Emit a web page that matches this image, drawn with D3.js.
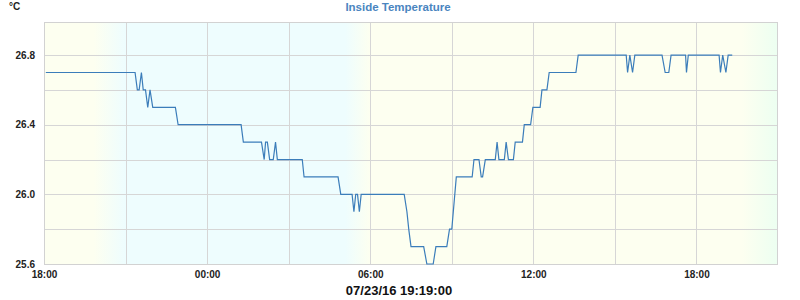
<!DOCTYPE html>
<html>
<head>
<meta charset="utf-8">
<script src="https://cdn.jsdelivr.net/npm/d3@7"></script>
<style>
  html, body { margin: 0; padding: 0; background: #fff; }
  svg { display: block; }
  text { font-family: "Liberation Sans", Arial, sans-serif; }
</style>
</head>
<body>
<svg id="chart" width="800" height="300"></svg>
<script>
// ---- data ----
const times = [
  "2016-07-22 18:04","2016-07-22 21:21","2016-07-22 21:26","2016-07-22 21:30","2016-07-22 21:35",
  "2016-07-22 21:39","2016-07-22 21:44","2016-07-22 21:49","2016-07-22 21:54","2016-07-22 22:00",
  "2016-07-22 22:50","2016-07-22 22:56","2016-07-23 01:15","2016-07-23 01:20","2016-07-23 02:00",
  "2016-07-23 02:06","2016-07-23 02:09","2016-07-23 02:13","2016-07-23 02:18","2016-07-23 02:26",
  "2016-07-23 02:31","2016-07-23 02:35","2016-07-23 03:30","2016-07-23 03:34","2016-07-23 04:49",
  "2016-07-23 04:55","2016-07-23 05:20","2016-07-23 05:24","2016-07-23 05:28","2016-07-23 05:32",
  "2016-07-23 05:36","2016-07-23 05:40","2016-07-23 07:15","2016-07-23 07:21","2016-07-23 07:25",
  "2016-07-23 07:30","2016-07-23 07:58","2016-07-23 08:05","2016-07-23 08:19","2016-07-23 08:25",
  "2016-07-23 08:49","2016-07-23 08:55","2016-07-23 09:00","2016-07-23 09:10","2016-07-23 09:45",
  "2016-07-23 09:49","2016-07-23 10:00","2016-07-23 10:05","2016-07-23 10:08","2016-07-23 10:14",
  "2016-07-23 10:36","2016-07-23 10:40","2016-07-23 10:44","2016-07-23 10:56","2016-07-23 11:00",
  "2016-07-23 11:05","2016-07-23 11:16","2016-07-23 11:20","2016-07-23 11:36","2016-07-23 11:40",
  "2016-07-23 11:54","2016-07-23 11:59","2016-07-23 12:15","2016-07-23 12:19","2016-07-23 12:30",
  "2016-07-23 12:35","2016-07-23 13:34","2016-07-23 13:39","2016-07-23 15:25","2016-07-23 15:28",
  "2016-07-23 15:33","2016-07-23 15:39","2016-07-23 15:44","2016-07-23 16:44","2016-07-23 16:51",
  "2016-07-23 16:59","2016-07-23 17:04","2016-07-23 17:36","2016-07-23 17:38","2016-07-23 17:42",
  "2016-07-23 18:50","2016-07-23 18:53","2016-07-23 18:58","2016-07-23 19:05","2016-07-23 19:10",
  "2016-07-23 19:19"
];
const temps = [
  26.7,26.7,26.6,26.6,26.7,
  26.6,26.6,26.5,26.6,26.5,
  26.5,26.4,26.4,26.3,26.3,
  26.2,26.3,26.3,26.2,26.2,
  26.3,26.2,26.2,26.1,26.1,
  26.0,26.0,25.9,26.0,26.0,
  25.9,26.0,26.0,25.9,25.8,
  25.7,25.7,25.6,25.6,25.7,
  25.7,25.8,25.8,26.1,26.1,
  26.2,26.2,26.1,26.1,26.2,
  26.2,26.3,26.2,26.2,26.3,
  26.2,26.2,26.3,26.3,26.4,
  26.4,26.5,26.5,26.6,26.6,
  26.7,26.7,26.8,26.8,26.7,
  26.8,26.7,26.8,26.8,26.7,
  26.7,26.8,26.8,26.7,26.8,
  26.8,26.7,26.8,26.7,26.8,
  26.8
];
const xDomain = ["2016-07-22 18:00", "2016-07-23 21:00"];
const xLabels = ["18:00", "00:00", "06:00", "12:00", "18:00"];
const yTicks = [25.6, 26.0, 26.4, 26.8];
const yGrid = [25.8, 26.0, 26.2, 26.4, 26.6, 26.8];
const shadeTimes = ["2016-07-22 18:00","2016-07-22 19:50","2016-07-22 20:58","2016-07-23 05:05",
                    "2016-07-23 06:00","2016-07-23 19:40","2016-07-23 21:00"];
const shadeColors = ["#fdfff0","#fdfff0","#eefdfe","#eefdfe","#fdfff0","#fdfff0","#ecfff1"];
const title = "Inside Temperature";
const unit = "°C";
const stamp = "07/23/16 19:19:00";

// ---- chart ----
const parse = d3.timeParse("%Y-%m-%d %H:%M");
const data = times.map((t, i) => ({ t: parse(t), v: temps[i] }));
const svg = d3.select("#chart");
const L = 44, R = 778, T = 22, B = 264;

const x = d3.scaleTime().domain(xDomain.map(parse)).range([L, R]);
const y = d3.scaleLinear().domain([25.6, 26.99]).range([B, T]);

// background shading
const defs = svg.append("defs");
const grad = defs.append("linearGradient").attr("id", "shade")
  .attr("gradientUnits", "userSpaceOnUse")
  .attr("x1", L).attr("x2", R).attr("y1", 0).attr("y2", 0);
shadeTimes.forEach((s, i) => {
  grad.append("stop")
    .attr("offset", (x(parse(s)) - L) / (R - L))
    .attr("stop-color", shadeColors[i]);
});
svg.append("rect").attr("x", L).attr("y", T).attr("width", R - L).attr("height", B - T)
  .attr("fill", "url(#shade)");

// vertical grid every 3h
const vTicks = d3.timeHour.every(3).range(x.domain()[0], x.domain()[1]);
svg.append("g").selectAll("line").data(vTicks.slice(1)).join("line")
  .attr("x1", d => Math.round(x(d)) + 0.5).attr("x2", d => Math.round(x(d)) + 0.5)
  .attr("y1", T).attr("y2", B)
  .attr("stroke", "#d6d6d6").attr("stroke-width", 1);

// horizontal grid
svg.append("g").selectAll("line").data(yGrid).join("line")
  .attr("x1", L).attr("x2", R)
  .attr("y1", d => Math.round(y(d)) + 0.5).attr("y2", d => Math.round(y(d)) + 0.5)
  .attr("stroke", "#d6d6d6").attr("stroke-width", 1);

// frame
svg.append("rect").attr("x", L + 0.5).attr("y", T + 0.5)
  .attr("width", R - L - 1).attr("height", B - T)
  .attr("fill", "none").attr("stroke", "#d2d2d2");

// line
const line = d3.line().x(d => x(d.t)).y(d => y(d.v)).curve(d3.curveLinear);
svg.append("path").datum(data).attr("d", line)
  .attr("fill", "none").attr("stroke", "#3b7dba").attr("stroke-width", 1.2);

// y axis labels
const yAxis = d3.axisLeft(y).tickValues(yTicks).tickFormat(d3.format(".1f")).tickSize(0).tickPadding(9);
const gy = svg.append("g").attr("transform", `translate(${L},0)`).call(yAxis);
gy.select(".domain").remove();
gy.selectAll("text").attr("font-family", "Liberation Sans, Arial, sans-serif")
  .attr("font-size", 10).attr("font-weight", "bold").attr("fill", "#222");

// x axis labels every 6h
const xTickDates = d3.timeHour.every(6).range(x.domain()[0], x.domain()[1]);
const xAxis = d3.axisBottom(x).tickValues(xTickDates)
  .tickFormat((d, i) => xLabels[i]).tickSize(0).tickPadding(7);
const gx = svg.append("g").attr("transform", `translate(0,${B})`).call(xAxis);
gx.select(".domain").remove();
gx.selectAll("text").attr("font-family", "Liberation Sans, Arial, sans-serif")
  .attr("font-size", 10).attr("font-weight", "bold").attr("fill", "#222");

// title
svg.append("text").attr("x", 398).attr("y", 11).attr("text-anchor", "middle")
  .attr("font-size", 11.5).attr("font-weight", "bold").attr("fill", "#4a85bf")
  .text(title);
// unit
svg.append("text").attr("x", 9).attr("y", 10)
  .attr("font-size", 10).attr("font-weight", "bold").attr("fill", "#222")
  .text(unit);
// timestamp
svg.append("text").attr("x", 399).attr("y", 295).attr("text-anchor", "middle")
  .attr("font-size", 13).attr("font-weight", "bold").attr("fill", "#111")
  .text(stamp);
</script>
</body>
</html>
